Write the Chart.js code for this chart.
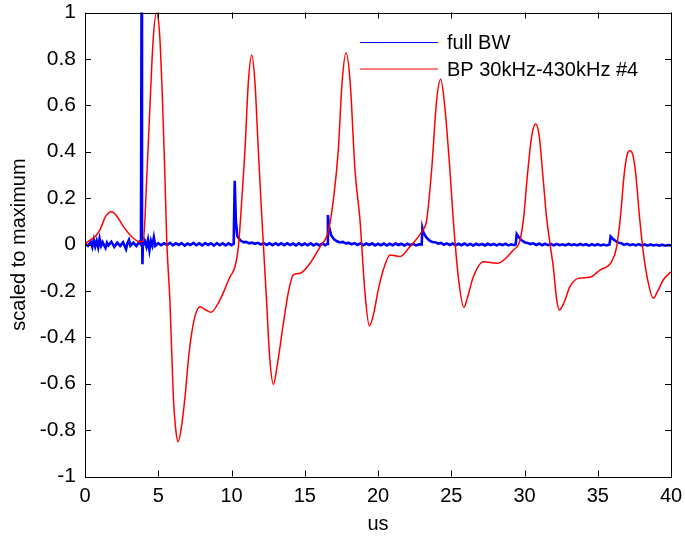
<!DOCTYPE html>
<html>
<head>
<meta charset="utf-8">
<script src="https://cdn.jsdelivr.net/npm/chart.js@4.4.1/dist/chart.umd.min.js"></script>
<style>
  html, body { margin: 0; padding: 0; background: #fff; }
  #wrap { width: 685px; height: 536px; }
</style>
</head>
<body>
<div id="wrap"><canvas id="scope"></canvas></div>
<script>
// axis ticks
const xTicks = [0, 5, 10, 15, 20, 25, 30, 35, 40];
const yTicks = [-1, -0.8, -0.6, -0.4, -0.2, 0, 0.2, 0.4, 0.6, 0.8, 1];

const seriesNames = ["full BW", "BP 30kHz-430kHz #4"];

// full bandwidth trace (us, scaled)
const fullBW = [
  [0,0.004],[0.2,-0.006],[0.4,0.012],[0.5,-0.01],[0.6,0.02],[0.7,-0.008],[0.8,0.015],[0.9,-0.012],
  [1.0,0.025],[1.1,-0.005],[1.2,0.01],[1.4,-0.015],[1.5,0.008],[1.6,-0.004],[1.8,0.012],[2.0,-0.01],
  [2.2,0.008],[2.4,-0.006],[2.6,0.01],[2.8,-0.02],[2.9,0.006],[3.0,0.02],[3.1,-0.005],[3.3,0.008],
  [3.5,-0.006],[3.7,0.01],[3.82,0.0],[3.86,1.05],[3.89,0.1],[3.92,-0.085],[3.96,0.03],[4.0,0.0],
  [4.1,0.012],[4.2,-0.01],[4.3,0.02],[4.4,-0.025],[4.5,0.015],[4.6,-0.005],[4.7,0.03],[4.8,-0.006],
  [5.0,0.006],[5.2,-0.003],[5.4,0.005],[5.6,-0.002],[5.8,0.007],[6.0,-0.004],[6.2,0.005],[6.4,-0.002],
  [6.6,0.006],[6.8,-0.005],[7.0,0.004],[7.2,-0.002],[7.4,0.007],[7.6,-0.003],[7.8,0.005],[8.0,-0.004],
  [8.2,0.006],[8.4,-0.002],[8.6,0.005],[8.8,-0.005],[9.0,0.006],[9.2,-0.003],[9.4,0.005],[9.6,-0.004],
  [9.8,0.005],[10.0,-0.003],[10.15,0.003],
  [10.22,0.275],[10.3,0.1],[10.4,0.035],[10.6,0.018],[10.8,0.01],[11.0,0.011],[11.2,0.005],[11.4,0.008],
  [11.6,0.003],[11.8,0.007],[12.0,0.0],[12.2,0.006],[12.4,-0.002],[12.6,0.005],[12.8,-0.003],[13.0,0.005],
  [13.2,-0.002],[13.4,0.005],[13.6,-0.003],[13.8,0.005],[14.0,-0.002],[14.2,0.004],[14.4,-0.004],[14.6,0.005],
  [14.8,-0.003],[15.0,0.004],[15.2,-0.003],[15.4,0.005],[15.6,-0.004],[15.8,0.003],[16.0,-0.004],[16.2,0.004],
  [16.4,-0.003],[16.52,0.002],
  [16.58,0.127],[16.65,0.08],[16.8,0.04],[17.0,0.022],[17.2,0.014],[17.4,0.009],[17.6,0.011],[17.8,0.005],
  [18.0,0.007],[18.2,0.001],[18.4,0.006],[18.6,-0.002],[18.8,0.005],[19.0,-0.003],[19.2,0.004],[19.4,-0.002],
  [19.6,0.005],[19.8,-0.004],[20.0,0.003],[20.2,-0.003],[20.4,0.004],[20.6,-0.004],[20.8,0.003],[21.0,-0.003],
  [21.2,0.004],[21.4,-0.002],[21.6,0.003],[21.8,-0.004],[22.0,0.003],[22.2,-0.003],[22.4,0.002],[22.6,-0.004],
  [22.8,0.001],[22.98,0.0],
  [23.03,0.07],[23.1,0.052],[23.3,0.03],[23.5,0.018],[23.7,0.011],[23.9,0.01],[24.1,0.004],[24.3,0.007],
  [24.5,-0.001],[24.7,0.005],[24.9,-0.002],[25.1,0.004],[25.3,-0.003],[25.5,0.003],[25.7,-0.003],[25.9,0.004],
  [26.1,-0.003],[26.3,0.002],[26.5,-0.004],[26.7,0.003],[26.9,-0.003],[27.1,0.002],[27.3,-0.004],[27.5,0.003],
  [27.7,-0.003],[27.9,0.002],[28.1,-0.004],[28.3,0.002],[28.5,-0.003],[28.7,0.003],[28.9,-0.004],[29.1,0.001],
  [29.3,-0.003],[29.4,0.0],
  [29.47,0.045],[29.6,0.032],[29.8,0.018],[30.0,0.01],[30.2,0.007],[30.4,0.002],[30.6,0.005],[30.8,-0.002],
  [31.0,0.004],[31.2,-0.003],[31.4,0.003],[31.6,-0.003],[31.8,0.002],[32.0,-0.004],[32.2,0.002],[32.4,-0.003],
  [32.6,0.001],[32.8,-0.004],[33.0,0.002],[33.2,-0.003],[33.4,0.001],[33.6,-0.004],[33.8,0.002],[34.0,-0.003],
  [34.2,0.001],[34.4,-0.005],[34.6,0.001],[34.8,-0.004],[35.0,0.001],[35.2,-0.004],[35.4,0.0],[35.6,-0.004],
  [35.8,0.0],
  [35.88,0.034],[36.0,0.026],[36.2,0.016],[36.4,0.008],[36.6,0.005],[36.8,-0.001],[37.0,0.003],[37.2,-0.003],
  [37.4,0.001],[37.6,-0.004],[37.8,0.001],[38.0,-0.004],[38.2,0.0],[38.4,-0.005],[38.6,0.0],[38.8,-0.004],
  [39.0,-0.001],[39.2,-0.005],[39.4,-0.001],[39.6,-0.005],[39.8,-0.002],[40.0,-0.004]
];

// band-passed trace
const bandPass = [
  [0,0],[0.11,0.008],[0.68,0.034],[1.02,0.063],[1.4,0.12],[1.82,0.141],[2.2,0.12],[2.62,0.077],
  [3.3,0.027],[3.75,0.012],[3.98,0.015],[4.21,0.28],[4.45,0.62],[4.65,0.88],[4.88,1.0],[5.1,0.9],
  [5.3,0.6],[5.46,0.28],[5.58,0.02],[5.8,-0.25],[6.03,-0.656],[6.2,-0.8],[6.35,-0.85],[6.55,-0.8],
  [6.83,-0.656],[7.05,-0.5],[7.28,-0.383],[7.55,-0.3],[7.85,-0.268],[8.2,-0.28],[8.6,-0.292],[9.21,-0.239],
  [9.9,-0.139],[10.24,-0.096],[10.47,-0.01],[10.7,0.19],[10.92,0.407],[11.15,0.7],[11.38,0.817],[11.6,0.7],
  [11.83,0.407],[12.0,0.2],[12.17,0.005],[12.4,-0.25],[12.6,-0.48],[12.86,-0.603],[13.1,-0.53],[13.54,-0.34],
  [13.9,-0.2],[14.22,-0.131],[14.68,-0.124],[15.36,-0.081],[16.04,-0.01],[16.6,0.055],[16.95,0.19],[17.29,0.407],
  [17.55,0.7],[17.82,0.827],[18.1,0.7],[18.43,0.32],[18.77,0.106],[19.1,-0.2],[19.41,-0.351],[19.7,-0.3],
  [20.0,-0.2],[20.36,-0.11],[20.82,-0.045],[21.5,-0.052],[22.18,-0.009],[22.98,0.055],[23.32,0.105],[23.66,0.32],
  [24.0,0.62],[24.28,0.712],[24.55,0.6],[24.91,0.32],[25.14,0.105],[25.5,-0.15],[25.87,-0.271],[26.1,-0.23],
  [26.51,-0.139],[27.19,-0.074],[28.1,-0.081],[29.24,-0.024],[29.7,0.02],[29.95,0.12],[30.2,0.3],[30.5,0.47],
  [30.76,0.519],[31.0,0.47],[31.25,0.3],[31.5,0.12],[31.75,0.0],[31.97,-0.1],[32.2,-0.24],[32.38,-0.282],
  [32.7,-0.25],[33.1,-0.182],[33.67,-0.146],[34.47,-0.141],[35.15,-0.11],[35.95,-0.074],[36.29,-0.01],[36.55,0.12],
  [36.8,0.3],[37.0,0.385],[37.2,0.404],[37.4,0.385],[37.6,0.3],[37.85,0.12],[38.1,-0.03],[38.4,-0.15],
  [38.79,-0.232],[39.1,-0.2],[39.47,-0.153],[40.0,-0.117]
];

const FONT = "'Liberation Sans', Arial, sans-serif";

// box round the plot, inward ticks and the in-plot legend
const frameAndLegend = {
  id: "frameAndLegend",
  afterDraw(chart) {
    const { ctx, chartArea: a, scales } = chart;
    ctx.save();
    ctx.strokeStyle = "#000";
    ctx.lineWidth = 1;
    ctx.strokeRect(Math.round(a.left) + 0.5, Math.round(a.top) + 0.5,
      Math.round(a.right - a.left), Math.round(a.bottom - a.top));
    const t = 6;
    ctx.beginPath();
    xTicks.forEach(v => {
      const px = Math.round(scales.x.getPixelForValue(v)) + 0.5;
      ctx.moveTo(px, a.bottom); ctx.lineTo(px, a.bottom - t);
      ctx.moveTo(px, a.top); ctx.lineTo(px, a.top + t);
    });
    yTicks.forEach(v => {
      const py = Math.round(scales.y.getPixelForValue(v)) + 0.5;
      ctx.moveTo(a.left, py); ctx.lineTo(a.left + t, py);
      ctx.moveTo(a.right, py); ctx.lineTo(a.right - t, py);
    });
    ctx.stroke();

    // legend
    const rows = [chart.data.datasets[1], chart.data.datasets[0]];
    ctx.font = "20px " + FONT;
    ctx.textBaseline = "middle";
    ctx.fillStyle = "#000";
    rows.forEach((ds, i) => {
      const y = 42.5 + i * 26.5;
      ctx.strokeStyle = ds.borderColor;
      ctx.lineWidth = 1;
      ctx.beginPath();
      ctx.moveTo(360, y); ctx.lineTo(438, y);
      ctx.stroke();
      ctx.fillText(ds.label, 447, y + 1);
    });
    ctx.restore();
  }
};

new Chart(document.getElementById("scope"), {
  type: "line",
  data: {
    datasets: [
      {
        label: seriesNames[1],
        data: bandPass.map(p => ({ x: p[0], y: p[1] })),
        borderColor: "#ff0000",
        borderWidth: 1.5,
        pointRadius: 0,
        cubicInterpolationMode: "monotone",
        order: 0
      },
      {
        label: seriesNames[0],
        data: fullBW.map(p => ({ x: p[0], y: p[1] })),
        borderColor: "#0000ff",
        borderWidth: 2.6,
        pointRadius: 0,
        tension: 0,
        order: 1
      }
    ]
  },
  options: {
    responsive: true,
    maintainAspectRatio: false,
    animation: false,
    layout: { padding: { top: 12.5, right: 14, left: 0, bottom: 0 } },
    plugins: {
      legend: { display: false },
      tooltip: { enabled: false }
    },
    scales: {
      x: {
        type: "linear",
        min: 0,
        max: 40,
        afterBuildTicks: s => { s.ticks = xTicks.map(v => ({ value: v })); },
        afterFit: s => { s.height = 59.5; s.paddingLeft = 0; s.paddingRight = 0; },
        grid: { display: false, drawTicks: false },
        border: { display: false },
        ticks: { color: "#000", padding: 8, maxRotation: 0, font: { family: FONT, size: 20 } },
        title: { display: true, text: "us", color: "#000", padding: { top: 0, bottom: 0 }, font: { family: FONT, size: 20 } }
      },
      y: {
        type: "linear",
        min: -1,
        max: 1,
        afterBuildTicks: s => { s.ticks = yTicks.map(v => ({ value: v })); },
        afterFit: s => { s.width = 85; s.paddingTop = 0; s.paddingBottom = 0; },
        grid: { display: false, drawTicks: false },
        border: { display: false },
        ticks: { color: "#000", padding: 9, font: { family: FONT, size: 21 }, callback: v => String(Math.round(v * 10) / 10) },
        title: { display: true, text: "scaled to maximum", color: "#000", padding: { top: 7, bottom: 0 }, font: { family: FONT, size: 20 } }
      }
    }
  },
  plugins: [frameAndLegend]
});
</script>
</body>
</html>
